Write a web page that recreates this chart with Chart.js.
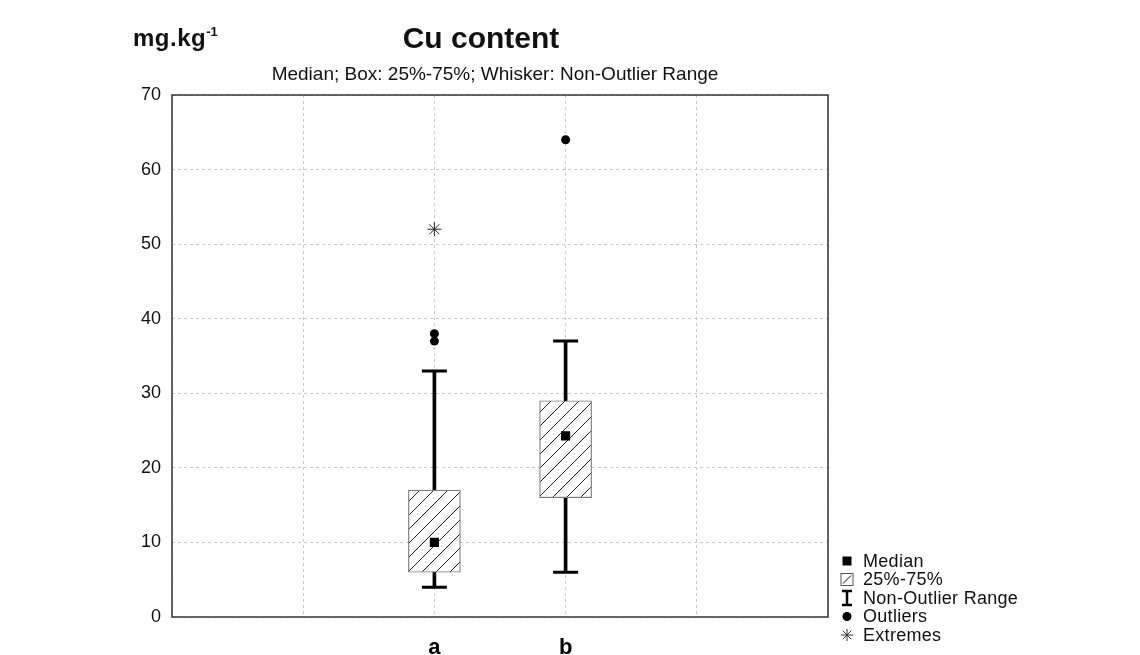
<!DOCTYPE html>
<html><head><meta charset="utf-8">
<script src="https://cdn.jsdelivr.net/npm/chart.js@4/dist/chart.umd.min.js"></script>
<style>html,body{margin:0;padding:0;background:#fff}canvas{display:block}</style>
</head><body>
<canvas id="c" width="1140" height="655"></canvas>
<script>
// ---- data ----
const categories = ['a', 'b'];
const whiskerLow = [4, 6];
const whiskerHigh = [33, 37];
const q1 = [6, 16];
const q3 = [17, 29];
const medians = [10, 24.3];
const outliers = [[38, 37], [64]];
const extremes = [[52], []];
const yTicks = [0, 10, 20, 30, 40, 50, 60, 70];
const legendLabels = ['Median', '25%-75%', 'Non-Outlier Range', 'Outliers', 'Extremes'];
const titleText = 'Cu content';
const subtitleText = 'Median; Box: 25%-75%; Whisker: Non-Outlier Range';
const unitText = 'mg.kg';
const unitSup = '-1';

const axisLabels = ['', '', ...categories, '', ''];
const FONT = "'Liberation Sans', Arial, sans-serif";

// hatch pattern
function makeHatch() {
  const s = 14;
  const p = document.createElement('canvas');
  p.width = s; p.height = s;
  const g = p.getContext('2d');
  g.fillStyle = '#fff'; g.fillRect(0, 0, s, s);
  g.strokeStyle = '#222'; g.lineWidth = 1;
  g.beginPath();
  g.moveTo(-1, s + 1); g.lineTo(s + 1, -1);
  g.moveTo(-1, 1); g.lineTo(1, -1);
  g.moveTo(s - 1, s + 1); g.lineTo(s + 1, s - 1);
  g.stroke();
  return document.getElementById('c').getContext('2d').createPattern(p, 'repeat');
}
const hatch = makeHatch();

const pts = (arrs) => {
  const out = [];
  categories.forEach((c, i) => arrs[i].forEach(v => out.push({x: c, y: v})));
  return out;
};

const datasets = [
  {type: 'line', label: 'Median', order: 0, showLine: false,
   data: categories.map((c, i) => ({x: c, y: medians[i]})),
   pointStyle: 'rect', pointRadius: 6.5, backgroundColor: '#000', borderColor: '#000', borderWidth: 0},
  {type: 'line', label: 'Outliers', order: 1, showLine: false,
   data: pts(outliers),
   pointStyle: 'circle', pointRadius: 4.5, backgroundColor: '#000', borderColor: '#000', borderWidth: 0},
  {type: 'line', label: 'Extremes', order: 1, showLine: false,
   data: pts(extremes),
   pointStyle: 'star', pointRadius: 7, backgroundColor: '#222', borderColor: '#222', borderWidth: 1},
  {type: 'line', label: 'Caps', order: 2, showLine: false,
   data: pts(categories.map((c, i) => [whiskerLow[i], whiskerHigh[i]])),
   pointStyle: 'line', pointRadius: 12.5, borderColor: '#000', borderWidth: 3},
  {type: 'bar', label: 'Box', order: 3, grouped: false,
   data: categories.map((c, i) => ({x: c, y: [q1[i], q3[i]]})),
   backgroundColor: hatch, borderColor: '#7a7a7a', borderWidth: 1.2, borderSkipped: false, barThickness: 52},
  {type: 'bar', label: 'Whisker', order: 4, grouped: false,
   data: categories.map((c, i) => ({x: c, y: [whiskerLow[i], whiskerHigh[i]]})),
   backgroundColor: '#000', borderWidth: 0, barThickness: 3}
];

const annot = {
  id: 'annot',
  afterDraw(chart) {
    const ctx = chart.ctx;
    const a = chart.chartArea;
    ctx.save();
    // frame
    ctx.strokeStyle = '#333'; ctx.lineWidth = 1.5;
    ctx.strokeRect(a.left, a.top, a.right - a.left, a.bottom - a.top);
    ctx.fillStyle = '#111';
    ctx.textBaseline = 'alphabetic';
    // unit
    ctx.textAlign = 'left';
    ctx.font = 'bold 24px ' + FONT;
    ctx.letterSpacing = '0.5px';
    ctx.fillText(unitText, 133, 46);
    const w = ctx.measureText(unitText).width;
    ctx.font = 'bold 13px ' + FONT;
    ctx.letterSpacing = '0px';
    ctx.fillText(unitSup, 133 + w, 36);
    // title
    ctx.textAlign = 'center';
    ctx.font = 'bold 30px ' + FONT;
    ctx.letterSpacing = '0px';
    ctx.fillText(titleText, 481, 48);
    // subtitle
    ctx.font = '19px ' + FONT;
    ctx.letterSpacing = '0px';
    ctx.fillText(subtitleText, 495, 80);
    // legend
    ctx.font = '18px ' + FONT;
    ctx.letterSpacing = '0.3px';
    ctx.textAlign = 'left';
    ctx.textBaseline = 'middle';
    const rows = [561, 579.5, 598, 616.5, 635];
    const cx = 847;
    legendLabels.forEach((t, i) => {
      const y = rows[i];
      ctx.fillStyle = '#111';
      ctx.fillText(t, 863, y + 1);
      ctx.strokeStyle = '#000'; ctx.fillStyle = '#000';
      if (i === 0) {
        ctx.fillRect(cx - 4.5, y - 4.5, 9, 9);
      } else if (i === 1) {
        ctx.fillStyle = '#fff'; ctx.fillRect(cx - 6, y - 6, 12, 12);
        ctx.strokeStyle = '#555'; ctx.lineWidth = 1; ctx.strokeRect(cx - 6, y - 6, 12, 12);
        ctx.strokeStyle = '#000'; ctx.beginPath(); ctx.moveTo(cx - 4, y + 4); ctx.lineTo(cx + 4, y - 4); ctx.stroke();
      } else if (i === 2) {
        ctx.lineWidth = 2.5; ctx.beginPath();
        ctx.moveTo(cx, y - 7); ctx.lineTo(cx, y + 7);
        ctx.moveTo(cx - 5, y - 7); ctx.lineTo(cx + 5, y - 7);
        ctx.moveTo(cx - 5, y + 7); ctx.lineTo(cx + 5, y + 7);
        ctx.stroke();
      } else if (i === 3) {
        ctx.beginPath(); ctx.arc(cx, y, 4.5, 0, Math.PI * 2); ctx.fill();
      } else {
        ctx.lineWidth = 1; ctx.strokeStyle = '#333';
        Chart.helpers.drawPoint(ctx, {pointStyle: 'star', radius: 6, borderWidth: 1}, cx, y);
      }
    });
    ctx.restore();
  }
};

new Chart(document.getElementById('c'), {
  type: 'bar',
  data: {labels: axisLabels, datasets},
  options: {
    responsive: false,
    animation: false,
    layout: {padding: {top: 95, right: 312, left: 0, bottom: 0}},
    plugins: {legend: {display: false}, tooltip: {enabled: false}, title: {display: false}},
    scales: {
      x: {
        type: 'category', offset: false,
        grid: {offset: false, color: '#c8c8c8', lineWidth: 1, drawTicks: false},
        border: {display: false, dash: [3, 3]},
        ticks: {autoSkip: false, maxRotation: 0, padding: 18, color: '#000',
                font: {family: FONT, size: 22, weight: 'bold'}},
        afterFit(s) { s.height = 38; }
      },
      y: {
        min: yTicks[0], max: yTicks[yTicks.length - 1],
        grid: {color: '#c8c8c8', lineWidth: 1, drawTicks: false},
        border: {display: false, dash: [3, 3]},
        ticks: {stepSize: yTicks[1] - yTicks[0], padding: 11, color: '#111',
                font: {family: FONT, size: 18}},
        afterFit(s) { s.width = 172; }
      }
    }
  },
  plugins: [annot]
});
</script>
</body></html>
